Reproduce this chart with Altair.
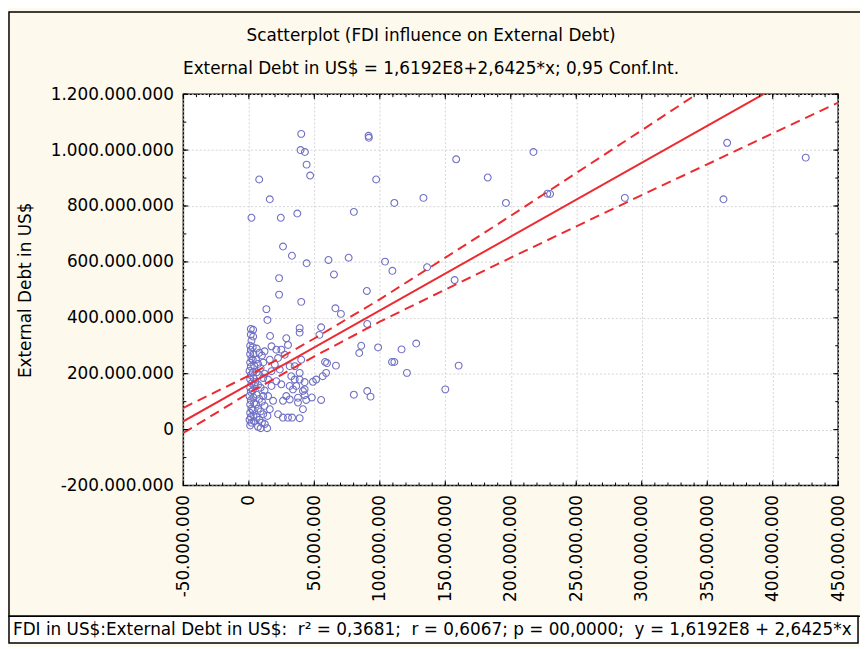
import altair as alt
import pandas as pd

# ---- data (values in millions of US$) ----
fdi_musd = [
    # scattered / high points
    2, 7.9, 16, 24.4, 37, 40, 39.5, 42.8, 44.1, 46.8, 26.1, 32.9, 44.1, 60.8, 76.2, 80.2,
    23.1, 65, 23.1, 40, 13.4, 66.1, 70.3, 14.2, 91.4, 91.6, 158.3, 217.3, 97.2, 182.4,
    111.1, 133.3, 196.3, 227.9, 230, 104, 109.6, 136.1, 157.1, 90.1, 90.4, 85.8, 84.3,
    98.7, 116.6, 127.8, 109.3, 111.1, 120.7, 160.2, 80.2, 90.4, 92.9, 150, 365.2, 425.2,
    287.1, 362.4,
    # mid cluster
    55.2, 53.9, 38.8, 38.8, 40, 58.2, 59.7, 66.5, 59, 56.4, 38.8, 38.8, 51.4, 48.9, 42.6,
    42.6, 42.6, 43.8, 48.1, 55.2, 41.3, 38.8, 35, 31.2, 32.4, 35, 41.3, 37.5, 24.8, 31.2,
    33.7, 28.6, 31.2, 26.1, 37.5, 36.2, 22.3, 26, 29.9, 33,
    # 13-30
    16.2, 3.3, 3.3, 17.3, 21, 24.8, 28.6, 29.9, 27.4, 22.3, 16, 19.8, 17.3, 23.6, 14.7,
    17.3, 21, 14.7, 18.5, 16, 14.2, 12.2, 14,
    # near zero
    1.5, 1.5, 2.0, 1.0, 1.5, 1.0, 2.0, 1.0, 1.5, 0.5, 1.5, 1.0, 2.0, 1.0, 1.5, 0.5, 1.5,
    1.0, 2.0, 1.0, 1.5, 0.5, 2.0, 1.0, 3.0, 3.5, 3.0, 4.0, 3.0, 3.5, 4.0, 3.0, 3.5, 4.0,
    3.0, 3.5, 4.0,
    # 5-12
    6, 8, 10, 5.5, 7, 9, 6, 8, 11, 5, 7, 9, 12, 6, 8, 10, 5.5, 7, 9, 11, 6, 8, 10, 7, 9,
    12, 11, 12, 11, 12,
]
debt_musd = [
    758, 895, 824, 758, 773, 1058, 1000, 993, 948, 909, 655, 622, 595, 607, 615, 779,
    542, 555, 483, 457, 431, 434, 414, 392, 1051, 1044, 967, 993, 895, 902,
    811, 829, 811, 844, 843, 601, 568, 581, 535, 496, 378, 300, 274,
    294, 287, 308, 242, 242, 203, 229, 125, 138, 118, 144, 1026, 973,
    829, 824,
    366, 339, 363, 347, 250, 242, 238, 229, 203, 191, 203, 179, 179, 171, 170,
    144, 123, 106, 115, 106, 73, 41, 227, 227, 191, 179, 138, 114, 162, 156,
    144, 120, 108, 103, 97, 156, 55, 43, 43, 43,
    335, 357, 333, 298, 286, 286, 327, 303, 268, 256, 250, 233, 209, 215, 179,
    156, 173, 120, 103, 73, 49, 20, 5,
    360, 340, 318, 300, 285, 270, 255, 240, 225, 210, 195, 180, 165, 150, 135, 120, 105,
    90, 75, 60, 45, 35, 25, 15, 295, 270, 250, 230, 205, 185, 160, 140, 115, 95,
    70, 50, 30,
    290, 275, 265, 250, 235, 220, 205, 195, 185, 170, 160, 150, 140, 125, 110, 100, 90, 75, 65,
    55, 45, 35, 25, 10, 5, 280, 240, 200, 120, 85,
]

reg_x = [-50, 450]
reg_y = [29.8, 1351.0]

ci_x = [-50, 0, 50, 100, 150, 200, 250, 300, 350, 400, 450]
ci_upper = [78, 193, 326, 466, 615, 765, 918, 1071, 1225, 1378, 1532]
ci_lower = [-12, 131, 262, 386, 501, 615, 727, 839, 949, 1060, 1170]

x_major = [-50, 0, 50, 100, 150, 200, 250, 300, 350, 400, 450]
y_major = [-200, 0, 200, 400, 600, 800, 1000, 1200]
x_minor = list(range(-50, 451, 10))
y_minor = list(range(-200, 1201, 100))

NB = "\u00a0"
title_text = "Scatterplot (FDI influence on External Debt)"
subtitle_text = "External Debt in US$ = 1,6192E8+2,6425*x; 0,95 Conf.Int."
ytitle_text = "External Debt in US$"
footer_text = ("FDI in US$:External Debt in US$:" + NB + NB + "r\u00b2 = 0,3681;" + NB + NB +
               "r = 0,6067; p = 00,0000;" + NB + NB + "y = 1,6192E8 + 2,6425*x")

# ---- styling ----
W, H = 661, 395
FONT = "DejaVu Sans"
RED = "#ec2a30"
PT = "#7070c4"
fmt = ("replace(replace(replace(replace(format(datum.value*1000000, ',.0f'), ',', '.'), ',', '.'), ',', '.'), '\u2212', '-')")

xscale = alt.Scale(domain=[-50, 450], nice=False, zero=False)
yscale = alt.Scale(domain=[-200, 1200], nice=False, zero=False)

x_axis = alt.Axis(values=x_major, labelAngle=270, labelAlign="right", labelBaseline="middle",
                  labelExpr=fmt, tickSize=0, domain=False, grid=True, gridDash=[2, 2],
                  gridColor="#d4d4d4", labelFont=FONT, labelFontSize=17, labelColor="black",
                  labelPadding=9, labelFlush=False, labelOverlap=False, title=None)
y_axis = alt.Axis(values=y_major, labelExpr=fmt, tickSize=0, domain=False, grid=True,
                  gridDash=[2, 2], gridColor="#d4d4d4", labelFont=FONT, labelFontSize=17,
                  labelColor="black", labelPadding=10, labelFlush=False, labelOverlap=False,
                  title=None)

pts = pd.DataFrame({"x": fdi_musd, "y": debt_musd})
points = alt.Chart(pts).mark_point(filled=False, size=48, color=PT, strokeWidth=1.1, opacity=1).encode(
    x=alt.X("x:Q", scale=xscale, axis=x_axis),
    y=alt.Y("y:Q", scale=yscale, axis=y_axis),
)

reg = alt.Chart(pd.DataFrame({"x": reg_x, "y": reg_y})).mark_line(
    clip=True, color=RED, strokeWidth=2).encode(x="x:Q", y="y:Q")

ci_df = pd.concat([
    pd.DataFrame({"x": ci_x, "y": ci_upper, "band": "upper"}),
    pd.DataFrame({"x": ci_x, "y": ci_lower, "band": "lower"}),
])
ci = alt.Chart(ci_df).mark_line(clip=True, color=RED, strokeWidth=2, strokeDash=[10, 6]).encode(
    x="x:Q", y="y:Q", detail="band:N")

# inward ticks on all four sides
xmin_df = pd.DataFrame({"x": x_minor})
xmaj_df = pd.DataFrame({"x": x_major})
ymin_df = pd.DataFrame({"y": y_minor})
ymaj_df = pd.DataFrame({"y": y_major})
tick_layers = []
for df, ln in ((xmin_df, 3), (xmaj_df, 5)):
    tick_layers.append(alt.Chart(df).mark_rule(color="black", strokeWidth=1).encode(
        x="x:Q", y=alt.value(H), y2=alt.value(H - ln)))
    tick_layers.append(alt.Chart(df).mark_rule(color="black", strokeWidth=1).encode(
        x="x:Q", y=alt.value(0), y2=alt.value(ln)))
for df, ln in ((ymin_df, 3), (ymaj_df, 5)):
    tick_layers.append(alt.Chart(df).mark_rule(color="black", strokeWidth=1).encode(
        y="y:Q", x=alt.value(0), x2=alt.value(ln)))
    tick_layers.append(alt.Chart(df).mark_rule(color="black", strokeWidth=1).encode(
        y="y:Q", x=alt.value(W), x2=alt.value(W - ln)))

one = pd.DataFrame({"k": [0]})
panel = alt.Chart(one).mark_rect(fill=None, stroke="black", strokeWidth=1.5).encode(
    x=alt.value(-176), x2=alt.value(684), y=alt.value(-83), y2=alt.value(527))
box = alt.Chart(one).mark_rect(fill="white", stroke="black", strokeWidth=1.5).encode(
    x=alt.value(-176), x2=alt.value(681), y=alt.value(527), y2=alt.value(554))

title = alt.Chart(one).mark_text(text=title_text, font=FONT, fontSize=17, color="black",
                                 align="center", baseline="middle").encode(
    x=alt.value(250), y=alt.value(-59))
subtitle = alt.Chart(one).mark_text(text=subtitle_text, font=FONT, fontSize=17, color="black",
                                    align="center", baseline="middle").encode(
    x=alt.value(250), y=alt.value(-25))
ytitle = alt.Chart(one).mark_text(text=ytitle_text, font=FONT, fontSize=17, color="black",
                                  align="center", baseline="middle", angle=270).encode(
    x=alt.value(-159), y=alt.value(198))
footer = alt.Chart(one).mark_text(text=footer_text, font=FONT, fontSize=17, color="black",
                                  align="left", baseline="middle").encode(
    x=alt.value(-172), y=alt.value(541))

chart = alt.layer(
    points, reg, ci, *tick_layers, panel, box, title, subtitle, ytitle, footer
).properties(
    width=W, height=H,
    autosize=alt.AutoSizeParams(type="none"),
    padding={"left": 177, "top": 84, "right": 22, "bottom": 160},
    background="#fdf9ec",
).configure_view(fill="white", stroke="black", strokeWidth=1.5)

chart.save("out.html", embed_options={"renderer": "svg", "actions": False})
